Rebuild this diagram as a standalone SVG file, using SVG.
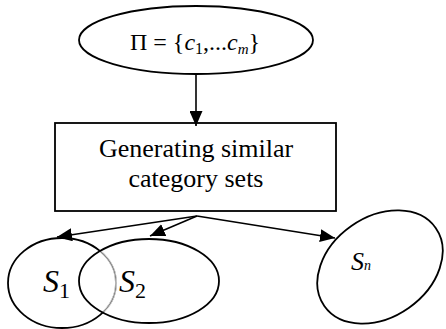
<svg xmlns="http://www.w3.org/2000/svg" width="446" height="329" viewBox="0 0 446 329">
<style>
.shape{fill:none;stroke:#000;stroke-width:1.8}
.conn{fill:none;stroke:#000;stroke-width:1.6}
text{font-family:"Liberation Serif","Times New Roman","DejaVu Serif",serif;fill:#000}
.i{font-style:italic}
</style>
<defs>
<marker id="ah" markerWidth="15" markerHeight="13" refX="15" refY="6.5" orient="auto" markerUnits="userSpaceOnUse">
<path d="M0,0 L15,6.5 L0,13 Z" fill="#000"/>
</marker>
<clipPath id="s2clip"><ellipse cx="149" cy="281" rx="70" ry="42"/></clipPath>
</defs>
<rect width="446" height="329" fill="#fff"/>
<g id="pi">
<ellipse class="shape" cx="196" cy="40" rx="117" ry="34"/>
<text x="130" y="50" font-size="24" font-family="Liberation Serif, serif">Π = {<tspan class="i">c</tspan><tspan font-size="16" dy="4">1</tspan><tspan dy="-4">,...</tspan><tspan class="i">c</tspan><tspan class="i" font-size="15" dy="4">m</tspan><tspan dy="-4">}</tspan></text>
</g>
<g id="gen">
<rect class="shape" x="55" y="123" width="281" height="88"/>
<text x="196" y="157" font-size="26" text-anchor="middle" font-family="Liberation Serif, serif">Generating similar</text>
<text x="196" y="187" font-size="26" text-anchor="middle" font-family="Liberation Serif, serif">category sets</text>
</g>
<g id="s1">
<ellipse class="shape" cx="62" cy="283" rx="54" ry="45"/>
<ellipse cx="62" cy="283" rx="54" ry="45" fill="none" stroke="#fff" stroke-width="2.2" clip-path="url(#s2clip)"/>
<ellipse cx="62" cy="283" rx="54" ry="45" fill="none" stroke="#888" stroke-width="1.2" clip-path="url(#s2clip)"/>
<text x="43" y="292" font-size="32" font-family="Liberation Serif, serif"><tspan class="i">S</tspan><tspan font-size="22" dy="6">1</tspan></text>
</g>
<g id="s2">
<ellipse class="shape" cx="149" cy="281" rx="70" ry="42"/>
<text x="119" y="292" font-size="32" font-family="Liberation Serif, serif"><tspan class="i">S</tspan><tspan font-size="22" dy="6">2</tspan></text>
</g>
<g id="sn">
<ellipse class="shape" cx="380" cy="267" rx="68" ry="50" transform="rotate(-35 380 267)"/>
<text x="351" y="270" font-size="26" font-family="Liberation Serif, serif"><tspan class="i">S</tspan><tspan class="i" font-size="14">n</tspan></text>
</g>
<g id="connectors">
<line class="conn" x1="196" y1="74" x2="196" y2="126" marker-end="url(#ah)"/>
<line class="conn" x1="197" y1="216" x2="57" y2="237" marker-end="url(#ah)"/>
<line class="conn" x1="197" y1="216" x2="150" y2="236" marker-end="url(#ah)"/>
<line class="conn" x1="197" y1="216" x2="335" y2="238" marker-end="url(#ah)"/>
</g>
</svg>
